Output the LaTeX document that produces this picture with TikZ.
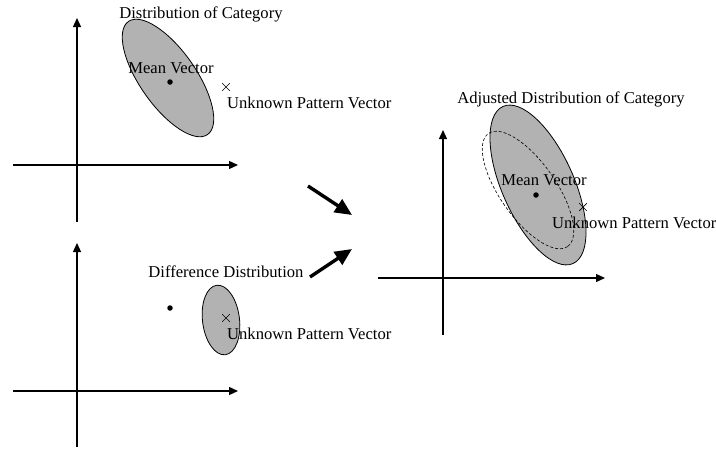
\documentclass[tikz,border=0pt]{standalone}
\usepackage{fontspec}
\setmainfont{Liberation Serif}
\usetikzlibrary{arrows.meta,shapes.misc}

\begin{document}
\begin{tikzpicture}[x = 1pt, y = -1pt,
  axis/.style = {line width=1.3pt, -{Triangle[length=9pt,width=8pt]}},
  distr/.style = {draw, line width=0.8pt, fill=black!30},
  shifted/.style = {draw, line width=0.6pt, dash pattern=on 3pt off 2pt},
  mean/.style = {circle, fill=black, inner sep=0pt, minimum size=5.5pt},
  unknown/.style = {cross out, draw, line width=0.7pt, inner sep=0pt, minimum size=7pt},
  lbl/.style = {inner sep=0pt, font=\fontsize{16.6}{19}\selectfont},
  flow/.style = {line width=3.4pt, -{Triangle[length=17pt,width=15pt]}}]
\useasboundingbox (0,0) rectangle (716,450);

  \coordinate (xa1) at (13,165);  \coordinate (xb1) at (238,165);
  \coordinate (ya1) at (77,222);  \coordinate (yb1) at (77,18);
  \draw[axis] (xa1) -- (xb1);
  \draw[axis] (ya1) -- (yb1);
  \coordinate (c1) at (168,78);
  \draw[distr, rotate around={-55:(c1)}] (c1) ellipse [x radius=69, y radius=28];
  \node[lbl] (cat1) at (201,14) {Distribution of Category};
  \node[mean] (m1) at (170,82) {};
  \node[lbl] (mv1) at (171,68.5) {Mean Vector};
  \node[unknown] (u1) at (226,87) {};
  \node[lbl, anchor=west] (uv1) at (227,103) {Unknown Pattern Vector};

  \coordinate (xa2) at (13,391);  \coordinate (xb2) at (238,391);
  \coordinate (ya2) at (77,447);  \coordinate (yb2) at (77,243);
  \draw[axis] (xa2) -- (xb2);
  \draw[axis] (ya2) -- (yb2);
  \coordinate (c2) at (221,320);
  \draw[distr, rotate around={7:(c2)}] (c2) ellipse [x radius=18.5, y radius=35];
  \node[lbl] (dd) at (226,271.5) {Difference Distribution};
  \node[mean] (m2) at (170,308) {};
  \node[unknown] (u2) at (226,318) {};
  \node[lbl, anchor=west] (uv2) at (227,334) {Unknown Pattern Vector};

  \coordinate (fa1) at (308,186);  \coordinate (fb1) at (352,215);
  \coordinate (fa2) at (310,277);  \coordinate (fb2) at (352,249);
  \draw[flow] (fa1) -- (fb1);
  \draw[flow] (fa2) -- (fb2);

  \coordinate (xa3) at (378,278);  \coordinate (xb3) at (605,278);
  \coordinate (ya3) at (443,335);  \coordinate (yb3) at (443,130);
  \draw[axis] (xa3) -- (xb3);
  \draw[axis] (ya3) -- (yb3);
  \coordinate (c3) at (538,185);
  \coordinate (c4) at (528,190);
  \draw[distr, rotate around={-66:(c3)}] (c3) ellipse [x radius=86, y radius=36];
  \draw[shifted, rotate around={-55:(c4)}] (c4) ellipse [x radius=69, y radius=28];
  \node[lbl] (adj) at (571,99.5) {Adjusted Distribution of Category};
  \node[mean] (m3) at (536,195) {};
  \node[lbl] (mv3) at (544,180.5) {Mean Vector};
  \node[unknown] (u3) at (583,207) {};
  \node[lbl, anchor=west] (uv3) at (552,223) {Unknown Pattern Vector};
\end{tikzpicture}
\end{document}
